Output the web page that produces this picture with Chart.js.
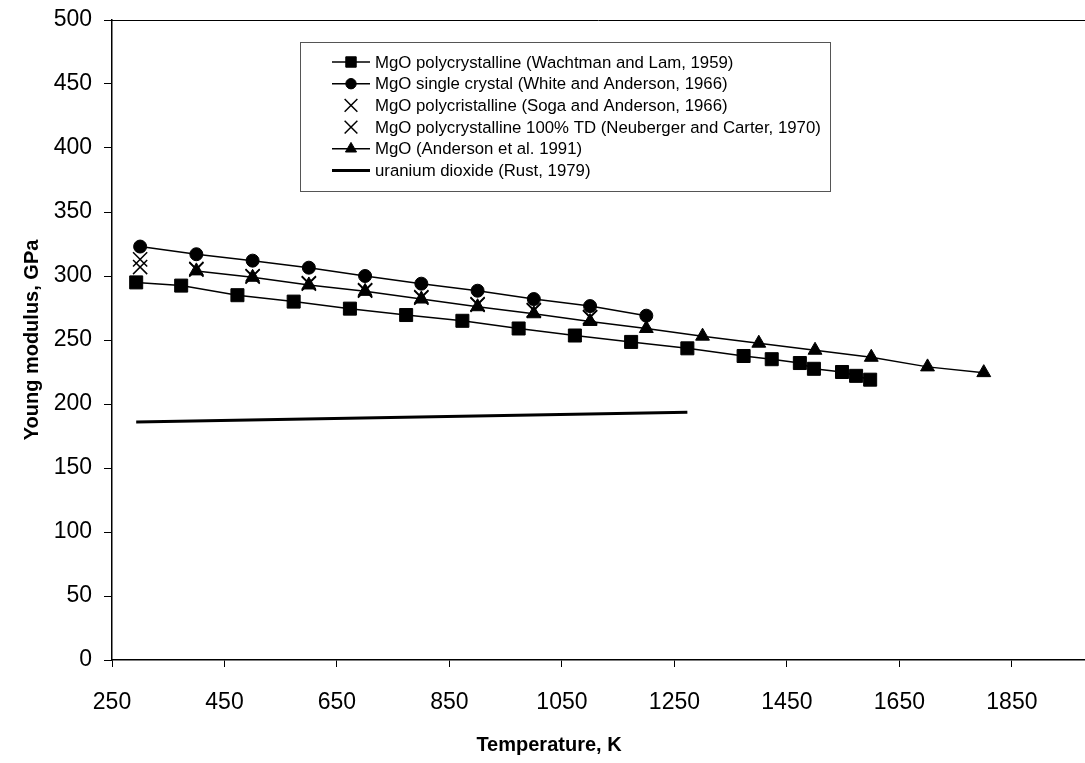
<!DOCTYPE html>
<html>
<head>
<meta charset="utf-8">
<script src="https://cdn.jsdelivr.net/npm/chart.js@4/dist/chart.umd.min.js"></script>
<style>
  html, body { margin: 0; padding: 0; background: #fff; overflow: hidden; }
  #wrap { width: 1085px; height: 763px; }
</style>
</head>
<body>
<div id="wrap"><canvas id="youngChart"></canvas></div>
<script>
// values
const xTicks = [250, 450, 650, 850, 1050, 1250, 1450, 1650, 1850];
const yTicks = [0, 50, 100, 150, 200, 250, 300, 350, 400, 450, 500];

const tempWachtman = [293, 373, 473, 573, 673, 773, 873, 973, 1073, 1173, 1273, 1373, 1423, 1473, 1498, 1548, 1573, 1598];
const eWachtman = [295, 292.5, 285, 280, 274.5, 269.5, 265, 259, 253.5, 248.5, 243.5, 237.5, 235, 232, 227.5, 225, 222, 219];

const tempWhite = [300, 400, 500, 600, 700, 800, 900, 1000, 1100, 1200];
const eWhite = [323, 317, 312, 306.5, 300, 294, 288.5, 282, 276.5, 269];

const tempSoga = [300, 400, 500, 600, 700, 800, 900, 1000, 1100];
const eSoga = [313, 305.5, 300, 294.5, 289, 283.5, 278, 273.5, 268];

const tempNeuberger = [300, 400, 500, 600, 700, 800, 900, 1000, 1100];
const eNeuberger = [307, 305, 299.5, 294, 288.5, 283, 277.5, 273, 267.5];

const tempAnderson = [400, 500, 600, 700, 800, 900, 1000, 1100, 1200, 1300, 1400, 1500, 1600, 1700, 1800];
const eAnderson = [304, 299, 293, 288, 282, 276, 270.5, 264.5, 259, 253, 247.5, 242, 236.5, 229, 224.5];

const tempRust = [293, 1273];
const eRust = [186, 193.5];

const labels = [
  'MgO polycrystalline (Wachtman and Lam, 1959)',
  'MgO single crystal (White and Anderson, 1966)',
  'MgO polycristalline (Soga and Anderson, 1966)',
  'MgO polycrystalline 100% TD (Neuberger and Carter, 1970)',
  'MgO (Anderson et al. 1991)',
  'uranium dioxide (Rust, 1979)'
];
const xTitle = 'Temperature, K';
const yTitle = 'Young modulus, GPa';

const FONT = 'Arial, "Liberation Sans", sans-serif';

function pts(xs, ys) {
  return xs.map((x, i) => ({ x: x, y: ys[i] }));
}

function series(label, xs, ys, style, radius, line, lineWidth) {
  return {
    label: label,
    data: pts(xs, ys),
    showLine: line,
    borderColor: '#000',
    backgroundColor: '#000',
    borderWidth: lineWidth,
    pointStyle: style,
    pointRadius: radius,
    pointBorderWidth: style === 'crossRot' ? 1.5 : 1,
    pointBorderColor: '#000',
    pointBackgroundColor: '#000',
    tension: 0
  };
}

// legend box inside the plot, top frame line, x title (the original plot was wider and cropped)
const boxLegend = {
  id: 'boxLegend',
  afterDraw(chart) {
    const ctx = chart.ctx;
    const area = chart.chartArea;
    ctx.save();
    ctx.strokeStyle = '#000';
    ctx.lineWidth = 1;
    ctx.beginPath();
    ctx.moveTo(area.left, area.top + 0.5);
    ctx.lineTo(area.right, area.top + 0.5);
    ctx.stroke();

    ctx.fillStyle = '#000';
    ctx.font = 'bold 20px ' + FONT;
    ctx.textAlign = 'center';
    ctx.textBaseline = 'middle';
    ctx.fillText(xTitle, 549, 745);

    const bx = 300, by = 42, bw = 530, bh = 149;
    ctx.fillStyle = '#fff';
    ctx.fillRect(bx, by, bw, bh);
    ctx.strokeStyle = '#555';
    ctx.strokeRect(bx + 0.5, by + 0.5, bw, bh);

    ctx.font = '16.8px ' + FONT;
    ctx.textAlign = 'left';
    chart.data.datasets.forEach((ds, i) => {
      const y = by + 20 + i * 21.7;
      const x0 = 332, x1 = 370, xm = 351;
      ctx.strokeStyle = '#000';
      ctx.fillStyle = '#000';
      if (ds.showLine) {
        ctx.lineWidth = ds.borderWidth;
        ctx.beginPath();
        ctx.moveTo(x0, y);
        ctx.lineTo(x1, y);
        ctx.stroke();
      }
      if (ds.pointRadius > 0) {
        ctx.lineWidth = ds.pointBorderWidth;
        Chart.helpers.drawPoint(ctx, {
          pointStyle: ds.pointStyle,
          radius: ds.pointStyle === 'crossRot' ? 9 : ds.pointRadius * 0.8,
          rotation: 0,
          borderWidth: ds.pointBorderWidth
        }, xm, y);
      }
      ctx.fillStyle = '#000';
      ctx.fillText(ds.label, 375, y + 1);
    });
    ctx.restore();
  }
};

new Chart(document.getElementById('youngChart'), {
  type: 'scatter',
  data: {
    datasets: [
      series(labels[0], tempWachtman, eWachtman, 'rect', 9.2, true, 1.5),
      series(labels[1], tempWhite, eWhite, 'circle', 6.5, true, 1.5),
      series(labels[2], tempSoga, eSoga, 'crossRot', 10, false, 1.5),
      series(labels[3], tempNeuberger, eNeuberger, 'crossRot', 10, false, 1.5),
      series(labels[4], tempAnderson, eAnderson, 'triangle', 8, true, 1.5),
      series(labels[5], tempRust, eRust, 'circle', 0, true, 3)
    ]
  },
  options: {
    responsive: true,
    maintainAspectRatio: false,
    animation: false,
    layout: { autoPadding: false, padding: { top: 20, right: 0, bottom: 0, left: 0 } },
    plugins: {
      legend: { display: false },
      tooltip: { enabled: false }
    },
    scales: {
      x: {
        type: 'linear',
        min: 250,
        max: 1980,
        afterBuildTicks: (scale) => { scale.ticks = xTicks.map(v => ({ value: v })); },
        afterFit: (scale) => {
          scale.height = 103;
          scale.paddingLeft = 0;
          scale.paddingRight = 0;
        },
        border: { color: '#000', width: 1.5 },
        grid: { display: true, drawOnChartArea: false, color: '#000', tickLength: 7 },
        ticks: {
          color: '#000',
          padding: 22,
          font: { family: FONT, size: 23 },
          callback: (v) => String(v)
        },
        title: { display: false }
      },
      y: {
        min: 0,
        max: 500,
        afterBuildTicks: (scale) => { scale.ticks = yTicks.map(v => ({ value: v })); },
        afterFit: (scale) => {
          scale.width = 112;
          scale.paddingTop = 0;
          scale.paddingBottom = 0;
        },
        border: { color: '#000', width: 1.5 },
        grid: { display: true, drawOnChartArea: false, color: '#000', tickLength: 8 },
        ticks: {
          color: '#000',
          padding: 12,
          font: { family: FONT, size: 23 },
          callback: (v) => String(v)
        },
        title: {
          display: true,
          text: yTitle,
          color: '#000',
          padding: { top: 20, bottom: 0 },
          font: { family: FONT, size: 20, weight: 'bold' }
        }
      }
    }
  },
  plugins: [boxLegend]
});
</script>
</body>
</html>
